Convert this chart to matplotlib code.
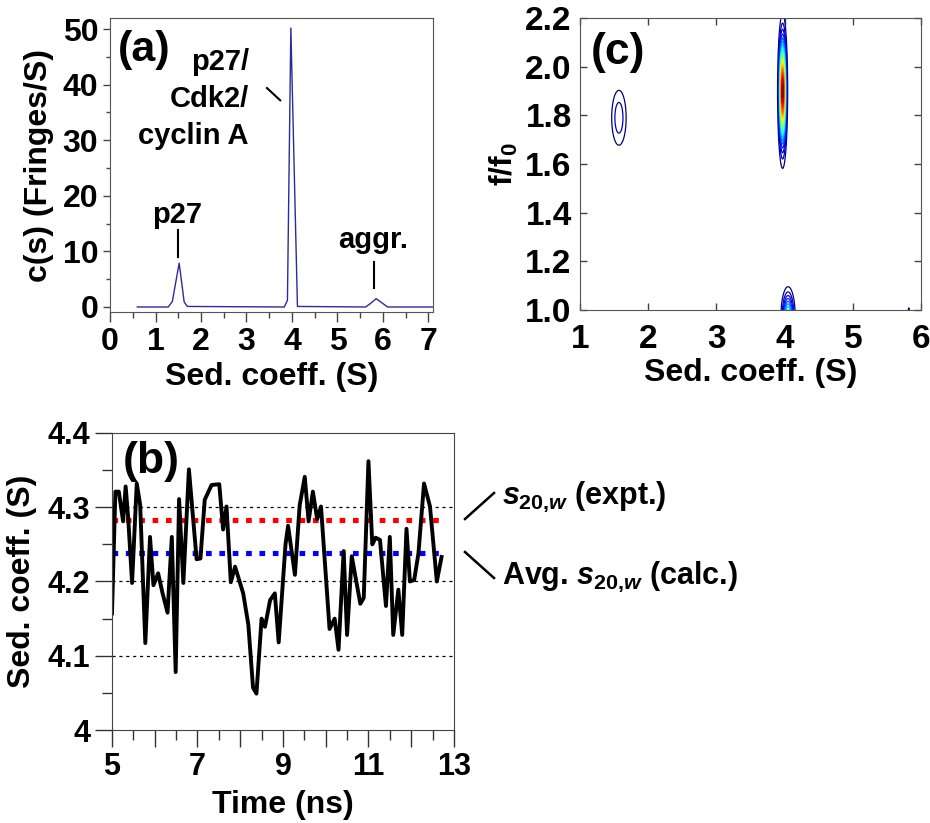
import numpy as np
import matplotlib
matplotlib.use("Agg")
import matplotlib.pyplot as plt
from matplotlib.lines import Line2D
from matplotlib.ticker import MultipleLocator, FixedLocator, FixedFormatter

plt.rcParams['font.family'] = ['Liberation Sans', 'DejaVu Sans']
plt.rcParams['font.weight'] = 'bold'
plt.rcParams['mathtext.fontset'] = 'custom'
plt.rcParams['mathtext.rm'] = 'Liberation Sans:bold'
plt.rcParams['mathtext.bf'] = 'Liberation Sans:bold'
plt.rcParams['mathtext.it'] = 'Liberation Sans:italic:bold'

# (a) c(s) distribution
cs_s = [0.6, 1.28, 1.37, 1.52, 1.63, 1.70, 3.83, 3.90, 3.975, 4.12, 5.62, 5.72, 5.85, 5.97, 6.10, 7.1]
cs_c = [0.0, 0.0, 1.0, 7.9, 0.9, 0.1, 0.0, 1.2, 50.2, 0.1, 0.0, 0.6, 1.5, 0.8, 0.0, 0.0]
complex_lines = ['p27/', 'Cdk2/', 'cyclin A']

# (b) sedimentation coefficient vs time
time_ns = [5.00, 5.08, 5.16, 5.26, 5.32, 5.38, 5.47, 5.58, 5.66, 5.78, 5.89, 5.97,
           6.08, 6.18, 6.30, 6.40, 6.49, 6.57, 6.67, 6.80, 6.98, 7.07, 7.17, 7.33,
           7.51, 7.60, 7.68, 7.78, 7.88, 8.07, 8.19, 8.30, 8.38, 8.50, 8.58, 8.70,
           8.81, 8.90, 9.06, 9.12, 9.28, 9.39, 9.51, 9.60, 9.70, 9.80, 9.89, 10.09,
           10.21, 10.30, 10.42, 10.50, 10.61, 10.81, 10.89, 11.00, 11.09, 11.17, 11.27,
           11.41, 11.50, 11.58, 11.70, 11.79, 11.89, 11.97, 12.07, 12.17, 12.30, 12.44,
           12.60, 12.71]
sed_coeff = [4.157, 4.321, 4.321, 4.281, 4.328, 4.285, 4.198, 4.332, 4.303, 4.117, 4.260, 4.195,
             4.211, 4.185, 4.158, 4.260, 4.078, 4.311, 4.198, 4.351, 4.230, 4.231, 4.310, 4.330,
             4.331, 4.270, 4.301, 4.199, 4.220, 4.184, 4.142, 4.057, 4.049, 4.150, 4.139, 4.175,
             4.184, 4.118, 4.250, 4.275, 4.209, 4.302, 4.341, 4.281, 4.321, 4.284, 4.301, 4.136,
             4.150, 4.108, 4.241, 4.128, 4.234, 4.170, 4.178, 4.362, 4.250, 4.259, 4.256,
             4.167, 4.260, 4.128, 4.189, 4.128, 4.271, 4.200, 4.202, 4.238, 4.332, 4.301,
             4.200, 4.233]
s20w_expt = 4.283
s20w_calc = 4.238

# (c) 2D c(s, f/f0) peaks: centre s, centre f/f0, width s, width f/f0, height
pk_s = [3.97, 1.57, 4.05, 1.12, 0.98, 5.82]
pk_f = [1.90, 1.79, 0.97, 2.25, 0.98, 0.97]
pk_ws = [0.03, 0.075, 0.05, 0.03, 0.03, 0.015]
pk_wf = [0.13, 0.08, 0.06, 0.05, 0.05, 0.04]
pk_h = [1.0, 0.135, 0.45, 0.08, 0.08, 0.08]

fig = plt.figure(figsize=(9.3, 8.23), dpi=100)

# ---------- panel (a)
ax1 = fig.add_axes([0.1183, 0.6209, 0.3473, 0.3572])
ax1.plot(cs_s, cs_c, color='#2b2b9a', lw=1.0)
ax1.set_xlim(0, 7.1)
ax1.set_ylim(-0.9, 52)
ax1.xaxis.set_major_locator(MultipleLocator(1))
ax1.xaxis.set_minor_locator(MultipleLocator(0.5))
ax1.yaxis.set_major_locator(MultipleLocator(10))
ax1.yaxis.set_minor_locator(MultipleLocator(5))
ax1.tick_params(which='major', direction='out', length=7, width=1, labelsize=23, color='#444')
ax1.tick_params(which='minor', direction='out', length=4, width=1, color='#444')
ax1.tick_params(axis='y', which='major', length=5)
ax1.tick_params(axis='y', which='minor', length=3)
for sp in ax1.spines.values():
    sp.set_color('#555')
ax1.set_xlabel('Sed. coeff. (S)', fontsize=23, fontweight='bold', labelpad=4)
ax1.set_ylabel('c(s) (Fringes/S)', fontsize=23, fontweight='bold', labelpad=6)
ax1.text(0.76, 46.3, '(a)', fontsize=31, fontweight='bold', ha='center', va='center')
# three-line label, right aligned, one text per line
for i, line in enumerate(complex_lines):
    ax1.text(3.05, 44.0 - 6.6 * i, line, fontsize=21, fontweight='bold',
             ha='right', va='center')
ax1.plot([3.45, 3.74], [39.4, 37.2], color='black', lw=1.5)
ax1.text(1.47, 16.6, 'p27', fontsize=21, fontweight='bold', ha='center', va='center')
ax1.plot([1.5, 1.5], [9.0, 13.8], color='black', lw=1.5)
ax1.text(5.78, 12.1, 'aggr.', fontsize=21, fontweight='bold', ha='center', va='center')
ax1.plot([5.8, 5.8], [3.4, 8.1], color='black', lw=1.5)

# ---------- panel (c)
ax3 = fig.add_axes([0.6237, 0.6233, 0.3667, 0.3548])
sg = np.linspace(1, 6, 501)
fg = np.linspace(1.0, 2.2, 241)
S, F = np.meshgrid(sg, fg)
Z = np.zeros_like(S)
for s0, f0, ws, wf, h in zip(pk_s, pk_f, pk_ws, pk_wf, pk_h):
    Z += h * np.exp(-0.5 * (((S - s0) / ws) ** 2 + ((F - f0) / wf) ** 2))
levels = np.linspace(0.05, 0.98, 20)
ax3.contour(S, F, Z, levels=levels, cmap='jet', linewidths=0.9)
ax3.set_xlim(1, 6)
ax3.set_ylim(1.0, 2.2)
ax3.xaxis.set_major_locator(MultipleLocator(1))
ax3.yaxis.set_major_locator(FixedLocator([1.0, 1.2, 1.4, 1.6, 1.8, 2.0, 2.2]))
ax3.yaxis.set_major_formatter(FixedFormatter(['1.0', '1.2', '1.4', '1.6', '1.8', '2.0', '2.2']))
ax3.tick_params(direction='in', length=5, width=1, labelsize=24, color='#444',
                top=True, right=True)
ax3.tick_params(axis='x', pad=10)
ax3.tick_params(axis='y', pad=6)
for sp in ax3.spines.values():
    sp.set_color('#555')
ax3.set_xlabel('Sed. coeff. (S)', fontsize=23, fontweight='bold', labelpad=2)
ax3.set_ylabel(r'f/f$_\mathbf{0}$', fontsize=23, fontweight='bold', labelpad=4)
ax3.text(1.56, 2.06, '(c)', fontsize=32, fontweight='bold', ha='center', va='center')

# ---------- panel (b)
ax2 = fig.add_axes([0.1204, 0.1130, 0.3677, 0.3609])
for g in [4.1, 4.2, 4.3]:
    ax2.axhline(g, color='black', lw=0.9, ls=(0, (2.5, 3)))
ax2.plot([5.0, 12.78], [s20w_expt, s20w_expt], color='red', lw=3.7, ls=(0, (1.1, 1.5)))
ax2.plot([5.0, 12.78], [s20w_calc, s20w_calc], color='blue', lw=3.7, ls=(0, (1.1, 1.5)))
ax2.plot(time_ns, sed_coeff, color='black', lw=2.8)
ax2.set_xlim(5, 13)
ax2.set_ylim(4.0, 4.4)
ax2.xaxis.set_major_locator(FixedLocator([5, 6, 7, 8, 9, 10, 11, 12, 13]))
ax2.xaxis.set_major_formatter(FixedFormatter(['5', '', '7', '', '9', '', '11', '', '13']))
ax2.xaxis.set_minor_locator(MultipleLocator(0.5))
ax2.yaxis.set_major_locator(FixedLocator([4.0, 4.1, 4.2, 4.3, 4.4]))
ax2.yaxis.set_major_formatter(FixedFormatter(['4', '4.1', '4.2', '4.3', '4.4']))
ax2.yaxis.set_minor_locator(MultipleLocator(0.05))
ax2.tick_params(which='major', direction='out', length=12, width=1, labelsize=22, color='#333')
ax2.tick_params(which='minor', direction='out', length=7, width=1, color='#333')
for sp in ax2.spines.values():
    sp.set_color('#444')
ax2.set_xlabel('Time (ns)', fontsize=23, fontweight='bold', labelpad=6)
ax2.set_ylabel('Sed. coeff. (S)', fontsize=23, fontweight='bold', labelpad=8)
ax2.text(5.91, 4.362, '(b)', fontsize=32, fontweight='bold', ha='center', va='center')

# annotations right of panel (b)
W, H = 930.0, 823.0
fig.add_artist(Line2D([465 / W, 494 / W], [1 - 519 / H, 1 - 493 / H], color='black', lw=1.8))
fig.add_artist(Line2D([465 / W, 494 / W], [1 - 552 / H, 1 - 578 / H], color='black', lw=1.8))
fig.text(502 / W, 1 - 497 / H, r'$\mathit{s}_{\mathbf{20}{,}\mathit{w}}$ (expt.)',
         fontsize=22, fontweight='bold', ha='left', va='center')
fig.text(502 / W, 1 - 577 / H, r'Avg. $\mathit{s}_{\mathbf{20}{,}\mathit{w}}$ (calc.)',
         fontsize=22, fontweight='bold', ha='left', va='center')

fig.savefig('out.png', dpi=100)
